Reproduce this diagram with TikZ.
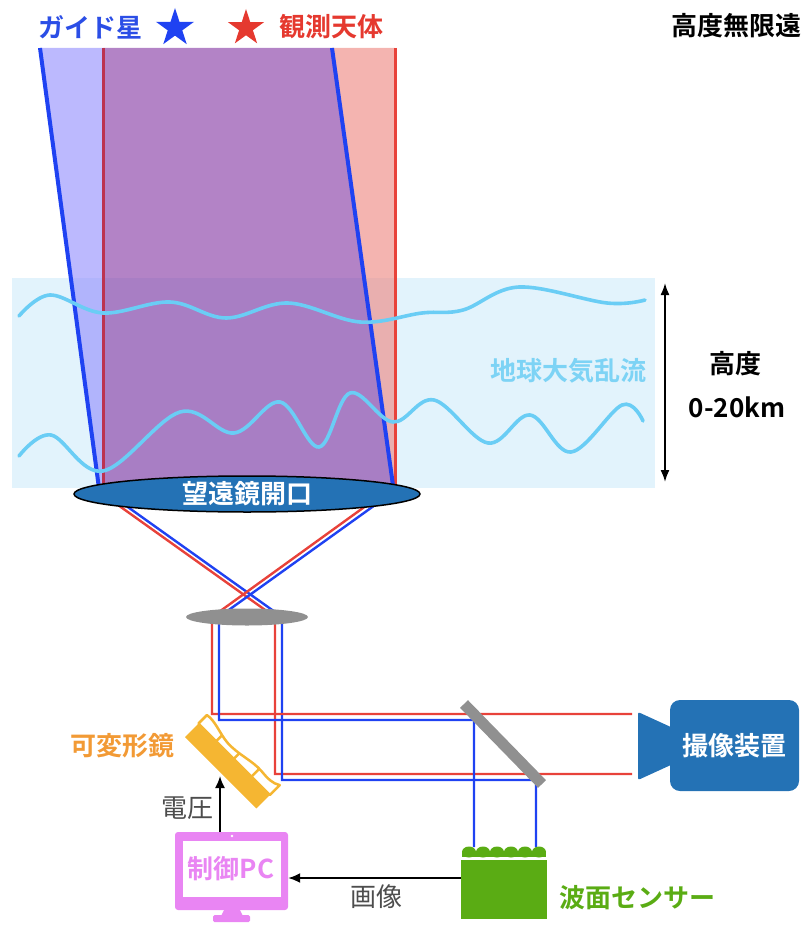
\documentclass[tikz,border=0pt]{standalone}
\usepackage{fontspec}
\setmainfont{Noto Sans CJK JP}[BoldFont={* Bold}]
\usetikzlibrary{shapes.geometric,arrows.meta,calc}

\definecolor{guideblue}{HTML}{2B4EE6}
\definecolor{beamblue}{HTML}{1F42F2}
\definecolor{objred}{HTML}{E5392F}
\definecolor{redline}{HTML}{E8423A}
\definecolor{darkred}{HTML}{BC3350}
\definecolor{skyband}{HTML}{E2F3FC}
\definecolor{wave}{HTML}{6ACDF5}
\definecolor{wavetext}{HTML}{7DD3F5}
\definecolor{lensblue}{HTML}{2472B5}
\definecolor{optgray}{HTML}{909090}
\definecolor{dmorange}{HTML}{F5B632}
\definecolor{dmtext}{HTML}{F29A35}
\definecolor{wfsgreen}{HTML}{5AAC14}
\definecolor{pcviolet}{HTML}{E985F3}
\definecolor{notegray}{HTML}{4D4D4D}
\definecolor{fillblue}{RGB}{152,147,253}
\definecolor{fillpurple}{RGB}{138,64,167}
\definecolor{fillpink}{RGB}{238,140,134}

\newcommand\lblfont{\fontsize{26}{30}\selectfont\bfseries}
\newcommand\notefont{\fontsize{26}{30}\selectfont}
% wavy front face of the deformable mirror (local coordinates)
\newcommand\dmsurface{(0,19) -- (0,31) .. controls (10,33) and (22,27) .. (34,26) .. controls (50,25) and (64,31) .. (78,30) .. controls (88,29) and (95,29) .. (101,33) -- (101,19) -- cycle}

\begin{document}
\begin{tikzpicture}[x=1pt,y=-1pt,
  lbl/.style={font=\lblfont, inner sep=0pt},
  note/.style={font=\notefont, text=notegray, inner sep=0pt},
  ray/.style={line width=2.4pt},
  sig/.style={line width=1.8pt, -{Latex[length=12pt,width=10pt]}},
  starshape/.style={star, star points=5, star point ratio=2.62, inner sep=0pt}]
\useasboundingbox (0,0) rectangle (806,925);

% ---- atmosphere layer ----
\fill[skyband] (12,278) rectangle (655,488);

% ---- light columns from the two sources ----
\begin{scope}[fill opacity=0.65]
  \fill[fillblue]   (40,48) -- (103,48) -- (103,486) -- (98.7,486) -- cycle;
  \fill[fillpurple] (103,48) -- (332,48) -- (393.1,486) -- (103,486) -- cycle;
  \fill[fillpink]   (332,48) -- (395,48) -- (395,486) -- (393.1,486) -- cycle;
\end{scope}
\draw[darkred, line width=3pt] (103,48) -- (103,486);
\draw[redline, line width=3pt] (395,48) -- (395,486);
\draw[beamblue, line width=4pt] (40,48) -- (98.7,486);
\draw[beamblue, line width=4pt] (332,48) -- (393.1,486);

% ---- turbulence ----
\draw[wave, line width=3.6pt, line cap=round] plot[smooth, tension=0.6] coordinates
  {(19,316) (50,295) (103,313) (170,302) (226,318) (288,303) (360,322) (422,313) (463,310) (519,287) (607,303) (645,300)};
\draw[wave, line width=3.6pt, line cap=round] plot[smooth, tension=0.6] coordinates
  {(19,456) (51,435) (103,471) (180,412) (234,433) (280,402) (319,447) (350,393) (393,422) (434,400) (488,443) (530,415) (571,452) (622,405) (643,421)};

% ---- height marker ----
\coordinate (htop) at (665,283);
\coordinate (hbot) at (665,482);
\draw[line width=1.8pt, {Latex[length=12pt,width=9pt]}-{Latex[length=12pt,width=9pt]}] (htop) -- (hbot);
\node[lbl] (hlab) at (735,364) {高度};
\node[lbl] (hval) at (737,407) {0-20km};
\node[lbl, text=wavetext] (turb) at (568,371) {地球大気乱流};

% ---- top labels ----
\node[lbl, text=guideblue] (guide) at (90,27) {ガイド星};
\node[starshape, fill=beamblue, minimum size=40pt] (gstar) at (175,28) {};
\node[starshape, fill=objred, minimum size=38pt] (ostar) at (246,28) {};
\node[lbl, text=objred] (object) at (331,27) {観測天体};
\node[lbl] (infty) at (736,26) {高度無限遠};

% ---- relayed beams ----
\draw[redline, ray]  (111,500) -- (275,617) -- (275,774) -- (632,774);
\draw[beamblue, ray] (118,500) -- (282,617) -- (282,780) -- (536,780) -- (536,847);
\draw[redline, ray]  (374,500) -- (212,617) -- (212,714) -- (632,714);
\draw[beamblue, ray] (382,500) -- (219,617) -- (219,720) -- (474,720) -- (474,847);

% ---- telescope aperture and relay lens ----
\node[ellipse, draw=black, line width=1.5pt, fill=lensblue, minimum width=346pt,
      minimum height=36pt, inner sep=0pt, text=white, font=\lblfont] (aperture) at (247,494) {望遠鏡開口};
\node[ellipse, fill=optgray, minimum width=122pt, minimum height=17pt, inner sep=0pt] (relay) at (247,617) {};

% ---- deformable mirror ----
\begin{scope}[shift={(185,737)}, x={(0.7071pt,-0.7071pt)}, y={(0.7071pt,0.7071pt)}]
  \fill[dmorange] (0,0) -- (101,0) -- (101,19) -- (0,19) -- cycle;
  \begin{scope}
    \clip \dmsurface;
    \fill[white] \dmsurface;
    \draw[dmorange, line width=2.5pt] (25,15) -- (25,40) (50,15) -- (50,40) (75,15) -- (75,40);
  \end{scope}
  \draw[dmorange, line width=2.5pt, line join=round] \dmsurface;
\end{scope}
\node[lbl, text=dmtext] (dmlab) at (122,746) {可変形鏡};

% ---- beam splitter ----
\draw[optgray, line width=11pt] (464,704) -- (542,784);

% ---- science camera ----
\node[rounded corners=10pt, fill=lensblue, minimum width=129pt, minimum height=91pt,
      inner sep=0pt, text=white, font=\lblfont] (camera) at (734.5,745.5) {撮像装置};
\fill[lensblue, rounded corners=2pt] (638,712) -- (673,728) -- (673,764) -- (638,780) -- cycle;

% ---- wavefront sensor: lenslet array above the detector ----
\node[fill=wfsgreen, minimum width=86pt, minimum height=59pt, inner sep=0pt] (sensor) at (504,889.5) {};
\begin{scope}
  \clip (461,840) rectangle (547,857);
  \fill[wfsgreen] (462,852) rectangle (546,857);
  \foreach \i in {0,...,5} \fill[wfsgreen] (469+14*\i,852) ellipse [x radius=7pt, y radius=5.5pt];
\end{scope}
\node[lbl, text=wfsgreen] (wfslab) at (637,898) {波面センサー};

% ---- control PC ----
\node[rounded corners=3pt, fill=pcviolet, minimum width=113pt, minimum height=78pt, inner sep=0pt] (pc) at (231.5,871) {};
\fill[white] (183,841) rectangle (281,897);
\fill[white] (232,836) circle (1.4pt);
\fill[pcviolet] (224,910) -- (240,910) -- (243,916) -- (221,916) -- cycle;
\fill[pcviolet, rounded corners=1.5pt] (213,915) rectangle (250,922);
\node[lbl, text=pcviolet] (pclab) at (231,869) {制御PC};

% ---- signal paths ----
\coordinate (imgfrom) at ($(sensor.west)+(0,-11.5)$);
\draw[sig] (imgfrom) -- (imgfrom -| pc.east);
\node[note] (imglab) at (376,897) {画像};
\coordinate (voltfrom) at ($(pc.north)+(-11.5,0)$);
\coordinate (voltto) at (220,776);
\draw[sig] (voltfrom) -- (voltto);
\node[note] (voltlab) at (187,808) {電圧};
\end{tikzpicture}
\end{document}
